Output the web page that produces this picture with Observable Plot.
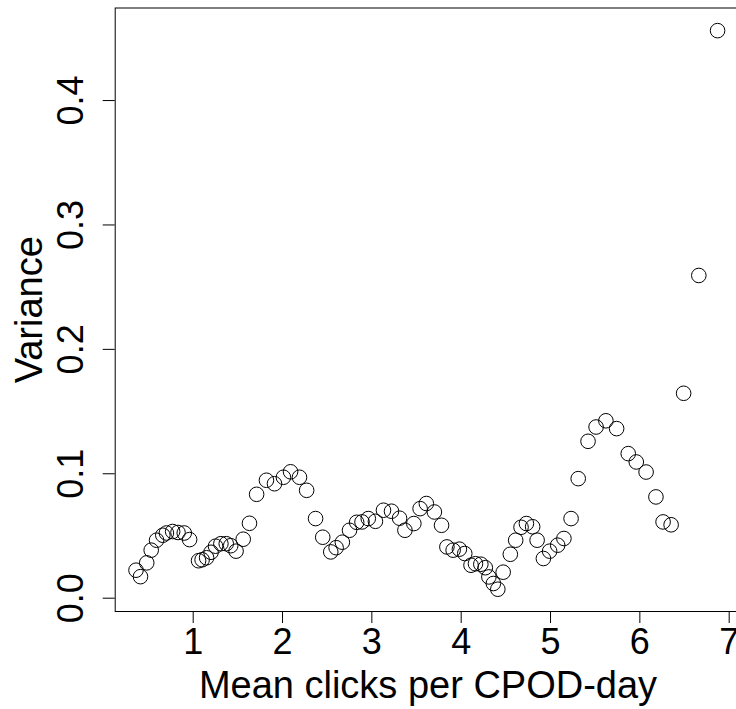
<!DOCTYPE html>
<html>
<head>
<meta charset="utf-8">
<script src="https://cdn.jsdelivr.net/npm/d3@7"></script>
<script src="https://cdn.jsdelivr.net/npm/@observablehq/plot@0.6"></script>
<style>
  html, body { margin: 0; padding: 0; background: #fff; }
  #chart svg { display: block; }
</style>
</head>
<body>
<div id="chart"></div>
<script>
// Mean clicks per CPOD-day (x) and variance (y)
const meanClicks = [
  0.36, 0.41, 0.48, 0.53, 0.59, 0.66, 0.70, 0.77, 0.83, 0.90, 0.96,
  1.06, 1.10, 1.15, 1.20, 1.25, 1.31, 1.37, 1.42, 1.48, 1.56, 1.63,
  1.71, 1.82, 1.91, 2.01, 2.09, 2.19, 2.27, 2.37, 2.45, 2.54, 2.60,
  2.67, 2.75, 2.83, 2.89, 2.96, 3.04, 3.13, 3.22, 3.31, 3.37, 3.47,
  3.54, 3.61, 3.70, 3.78, 3.84, 3.91, 3.98, 4.04, 4.11, 4.16, 4.22,
  4.27, 4.31, 4.36, 4.41, 4.47, 4.55, 4.61, 4.67, 4.73, 4.80, 4.85,
  4.92, 4.99, 5.08, 5.15, 5.23, 5.31, 5.42, 5.51, 5.62, 5.74, 5.87,
  5.96, 6.07, 6.18, 6.26, 6.35, 6.49, 6.66, 6.87
];
const variance = [
  0.0225, 0.0173, 0.0284, 0.0386, 0.0466, 0.0506, 0.0524, 0.0536, 0.0528, 0.0524, 0.0471,
  0.0301, 0.0309, 0.0325, 0.0369, 0.0418, 0.0438, 0.0438, 0.0422, 0.0378, 0.0474, 0.0602,
  0.0835, 0.0948, 0.0920, 0.0972, 0.1016, 0.0972, 0.0867, 0.0640, 0.0490, 0.0372, 0.0406,
  0.0450, 0.0546, 0.0610, 0.0613, 0.0640, 0.0618, 0.0707, 0.0699, 0.0643, 0.0546, 0.0600,
  0.0720, 0.0761, 0.0693, 0.0586, 0.0412, 0.0386, 0.0394, 0.0359, 0.0265, 0.0277, 0.0273,
  0.0245, 0.0171, 0.0118, 0.0072, 0.0209, 0.0353, 0.0466, 0.0570, 0.0600, 0.0574, 0.0466,
  0.0319, 0.0378, 0.0426, 0.0480, 0.0640, 0.0961, 0.1261, 0.1376, 0.1426, 0.1363, 0.1162,
  0.1095, 0.1014, 0.0814, 0.0613, 0.0590, 0.1647, 0.2594, 0.4562
];
const xTicks = [1, 2, 3, 4, 5, 6, 7];
const yTicks = [0, 0.1, 0.2, 0.3, 0.4];
const xTitle = "Mean clicks per CPOD-day";
const yTitle = "Variance";

const data = meanClicks.map((x, i) => ({x, y: variance[i]}));

const font = "'Liberation Sans', Arial, Helvetica, sans-serif";

const chart = Plot.plot({
  width: 736,
  height: 709,
  marginLeft: 114.7,
  marginRight: -4.3,
  marginTop: 7.5,
  marginBottom: 98,
  style: {fontFamily: font, background: "#fff", color: "#000"},
  x: {domain: [0.127, 7.13], label: null},
  y: {domain: [-0.0107, 0.4744], label: null},
  marks: [
    Plot.frame({stroke: "#000", strokeWidth: 1}),
    Plot.axisX({ticks: xTicks, tickSize: 12, tickPadding: 5, fontSize: 36, label: null, tickFormat: d => String(d)}),
    Plot.axisY({ticks: yTicks, tickSize: 12, tickPadding: 20.7, tickRotate: -90, fontSize: 36, label: null, tickFormat: d3.format(".1f")}),
    Plot.text([xTitle], {frameAnchor: "bottom", dy: 86, lineAnchor: "bottom", textAnchor: "middle", fontSize: 38, fill: "#000"}),
    Plot.text([yTitle], {frameAnchor: "left", dx: -73, rotate: -90, lineAnchor: "bottom", textAnchor: "middle", fontSize: 38, fill: "#000"}),
    Plot.dot(data, {x: "x", y: "y", r: 7.3, stroke: "#000", strokeWidth: 1, fill: "none"})
  ]
});
document.getElementById("chart").appendChild(chart);
</script>
</body>
</html>
